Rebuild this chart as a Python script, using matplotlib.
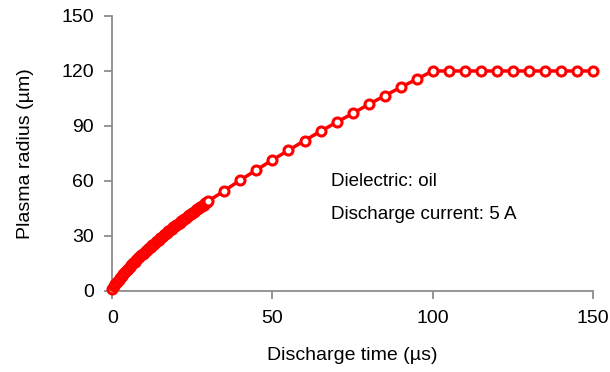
import numpy as np
import matplotlib.pyplot as plt

plt.rcParams['font.family'] = ['Liberation Sans', 'DejaVu Sans']

# Discharge time (us) and plasma radius (um)
t_dense = [0, 0.5, 1, 1.5, 2, 2.5, 3, 3.5, 4, 4.5, 5, 5.5, 6, 6.5, 7, 7.5, 8, 8.5, 9, 9.5,
           10, 10.5, 11, 11.5, 12, 12.5, 13, 13.5, 14, 14.5, 15, 15.5, 16, 16.5, 17, 17.5,
           18, 18.5, 19, 19.5, 20, 20.5, 21, 21.5, 22, 22.5, 23, 23.5, 24, 24.5, 25, 25.5,
           26, 26.5, 27, 27.5, 28, 28.5, 29, 29.5]
r_dense = [1.0, 2.8, 4.0, 5.0, 6.0, 7.0, 8.2, 9.2, 10.2, 11.2, 12.2, 13.2, 14.2, 15.2, 16.0,
           17.0, 17.8, 18.6, 19.4, 20.2, 20.9, 21.7, 22.5, 23.3, 24.1, 24.9, 25.7, 26.5, 27.2,
           28.0, 28.7, 29.5, 30.3, 31.0, 31.8, 32.5, 33.2, 33.9, 34.6, 35.2, 35.9, 36.6, 37.3,
           37.9, 38.6, 39.3, 39.9, 40.6, 41.3, 41.9, 42.6, 43.2, 43.9, 44.5, 45.2, 45.8, 46.5,
           47.1, 47.7, 48.4]
t_sparse = [30, 35, 40, 45, 50, 55, 60, 65, 70, 75, 80, 85, 90, 95, 100,
            105, 110, 115, 120, 125, 130, 135, 140, 145, 150]
r_sparse = [49.0, 54.7, 60.5, 66.0, 71.5, 76.7, 82.0, 87.1, 92.0, 96.8, 101.8, 106.4, 111.1, 115.5, 120.0,
            120, 120, 120, 120, 120, 120, 120, 120, 120, 120]

t = t_dense + t_sparse
r = r_dense + r_sparse

fig, ax = plt.subplots(figsize=(6.1, 3.72), dpi=100)
fig.subplots_adjust(left=0.184, right=0.972, top=0.957, bottom=0.218)

ax.plot(t, r, color='red', lw=2.5, marker='o', ms=6.5, mfc='white', mec='red', mew=2.2,
        clip_on=False, zorder=3)

ax.set_xlim(0, 150)
ax.set_ylim(0, 150)
ax.set_xticks([0, 50, 100, 150])
ax.set_yticks(np.arange(0, 151, 30))

for s in ['top', 'right']:
    ax.spines[s].set_visible(False)
for s in ['left', 'bottom']:
    ax.spines[s].set_color('#8c8c8c')
    ax.spines[s].set_linewidth(1.3)
ax.tick_params(colors='#8c8c8c', labelcolor='black', labelsize=14, length=6, width=1.3, direction='out')
ax.tick_params(axis='x', pad=8)
ax.tick_params(axis='y', pad=7)

ax.set_xlabel('Discharge time (µs)', fontsize=14, labelpad=14)
ax.set_ylabel('Plasma radius (µm)', fontsize=14, labelpad=20)

ax.text(68.3, 59.5, 'Dielectric: oil', fontsize=13.5, va='center')
ax.text(68.3, 41.5, 'Discharge current: 5 A', fontsize=13.5, va='center')

fig.savefig('out.png', dpi=100)
